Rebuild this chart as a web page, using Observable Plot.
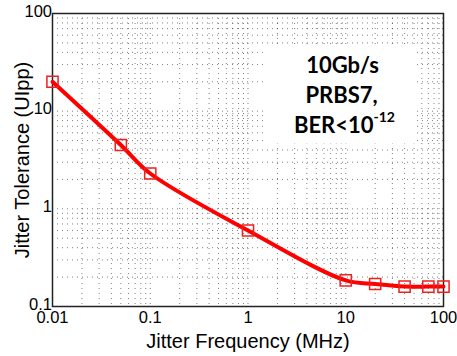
<!DOCTYPE html>
<html>
<head>
<meta charset="utf-8">
<script src="https://cdn.jsdelivr.net/npm/d3@7"></script>
<script src="https://cdn.jsdelivr.net/npm/@observablehq/plot@0.6"></script>
<style>
  html, body { margin: 0; padding: 0; background: white; }
  #chart svg g[aria-label="x-axis tick label"],
  #chart svg g[aria-label="y-axis tick label"] { font-size: 16.5px; }
  #chart svg g[aria-label="y-axis tick label"] { transform: translate(0px, -1.5px); }
</style>
</head>
<body>
<div id="chart"></div>
<script>
// Data
const freqMHz = [0.01, 0.05, 0.1, 1, 10, 20, 40, 70, 100];
const toleranceUIpp = [20, 4.5, 2.3, 0.6, 0.185, 0.17, 0.16, 0.16, 0.16];
const xTicks = [0.01, 0.1, 1, 10, 100];
const xTickLabels = ["0.01", "0.1", "1", "10", "100"];
const yTicks = [0.1, 1, 10, 100];
const yTickLabels = ["0.1", "1", "10", "100"];
const annotationLines = ["10Gb/s", "PRBS7,", "BER<10"];
const annotationSup = "-12";

const data = freqMHz.map((f, i) => ({f, t: toleranceUIpp[i]}));

// minor grid positions (1..9 per decade)
const minor = decades => decades.slice(0, -1).flatMap(d => d3.range(1, 10).map(k => d * k)).concat([decades[decades.length - 1]]);
const gridXv = minor(xTicks);
const gridYv = minor(yTicks);

const fontAxis = "Liberation Sans, Arial, sans-serif";
const fontNote = "Lato, 'Open Sans', sans-serif";

const chart = Plot.plot({
  width: 457,
  height: 356,
  marginLeft: 52,
  marginRight: 14,
  marginTop: 13,
  marginBottom: 50,
  style: {fontFamily: fontAxis, fontSize: "16.5px", color: "black", background: "white"},
  x: {type: "log", domain: [0.01, 100], ticks: xTicks, tickFormat: d => xTickLabels[xTicks.indexOf(d)], tickSize: 0, tickPadding: 5, label: null},
  y: {type: "log", domain: [0.1, 100], ticks: yTicks, tickFormat: d => yTickLabels[yTicks.indexOf(d)], tickSize: 0, tickPadding: 3, label: null},
  marks: [
    Plot.gridX(gridXv, {stroke: "#000", strokeOpacity: 0.5, strokeDasharray: "1,4", strokeWidth: 1}),
    Plot.gridY(gridYv, {stroke: "#000", strokeOpacity: 0.5, strokeDasharray: "1,4", strokeWidth: 1}),
    Plot.rect([0], {x1: 1.5, x2: 54, y1: 4.6, y2: 46, fill: "white"}),
    Plot.frame({stroke: "#222", strokeWidth: 1.5}),
    Plot.text(["Jitter Frequency (MHz)"], {frameAnchor: "bottom", dy: 41, lineAnchor: "bottom", textAnchor: "middle", fontSize: 20, fill: "black"}),
    Plot.text(["Jitter Tolerance (UIpp)"], {frameAnchor: "left", dx: -30, rotate: -90, lineAnchor: "middle", textAnchor: "middle", fontSize: 20, fill: "black"}),
    Plot.line(data, {x: "f", y: "t", stroke: "#ff0000", strokeWidth: 4, curve: "catmull-rom"}),
    Plot.dot(data, {x: "f", y: "t", symbol: "square", r: 6.3, stroke: "#ee2020", fill: "none", strokeWidth: 1.5}),
    Plot.text([annotationLines[0]], {frameAnchor: "top-left", dx: 290, dy: 59, lineAnchor: "bottom", textAnchor: "middle", fontFamily: fontNote, fontWeight: "bold", fontSize: 22, fill: "black"}),
    Plot.text([annotationLines[1]], {frameAnchor: "top-left", dx: 289, dy: 89, lineAnchor: "bottom", textAnchor: "middle", fontFamily: fontNote, fontWeight: "bold", fontSize: 22, fill: "black"}),
    Plot.text([annotationLines[2]], {frameAnchor: "top-left", dx: 321, dy: 119, lineAnchor: "bottom", textAnchor: "end", fontFamily: fontNote, fontWeight: "bold", fontSize: 22, fill: "black"}),
    Plot.text([annotationSup], {frameAnchor: "top-left", dx: 321, dy: 108, lineAnchor: "bottom", textAnchor: "start", fontFamily: fontNote, fontWeight: "bold", fontSize: 14, fill: "black"})
  ]
});
document.getElementById("chart").appendChild(chart);
</script>
</body>
</html>
